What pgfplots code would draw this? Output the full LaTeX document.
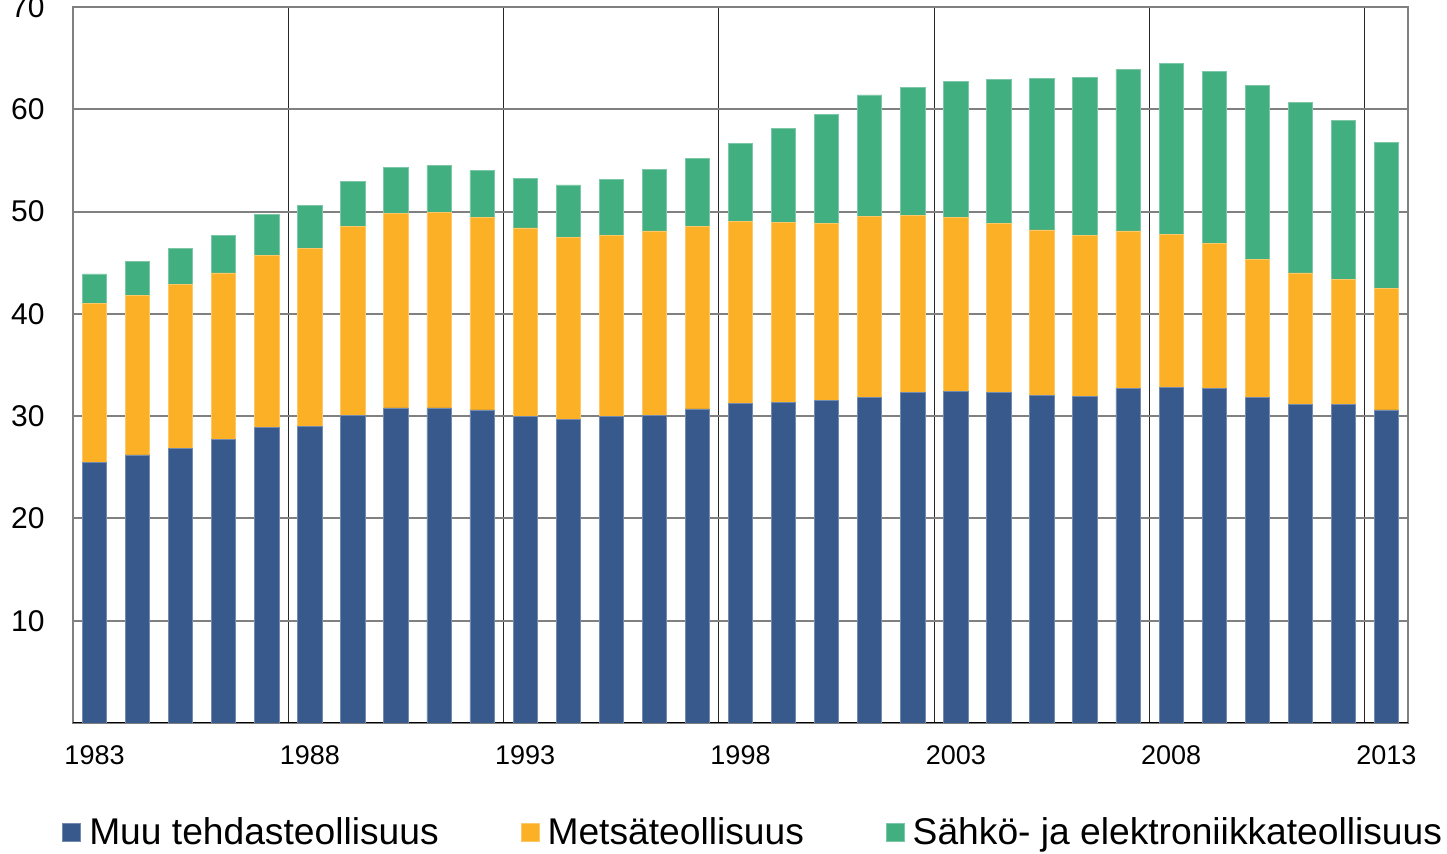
\documentclass[border=0pt]{standalone}
\usepackage{pgfplots}
\pgfplotsset{compat=1.18}
\usepackage{pgfplotstable}
\usepackage{fontspec}
\setmainfont{Liberation Sans}
\definecolor{cblue}{RGB}{55,89,140}
\definecolor{corange}{RGB}{252,176,38}
\definecolor{cgreen}{RGB}{66,175,129}
\definecolor{gridgray}{RGB}{128,128,128}
\pgfplotstableread{
x blue orange green
0 25.5 15.5 2.9
1 26.2 15.6 3.3
2 26.8 16.1 3.5
3 27.7 16.3 3.7
4 28.9 16.8 4.0
5 29.0 17.4 4.2
6 30.1 18.4 4.4
7 30.8 19.0 4.5
8 30.8 19.1 4.6
9 30.6 18.8 4.6
10 30.0 18.4 4.8
11 29.7 17.8 5.1
12 30.0 17.7 5.4
13 30.1 18.0 6.0
14 30.7 17.8 6.7
15 31.2 17.8 7.7
16 31.3 17.6 9.2
17 31.5 17.3 10.7
18 31.8 17.7 11.9
19 32.3 17.3 12.5
20 32.4 17.0 13.3
21 32.3 16.5 14.1
22 32.0 16.2 14.8
23 31.9 15.8 15.4
24 32.7 15.4 15.8
25 32.8 15.0 16.7
26 32.7 14.2 16.8
27 31.8 13.5 17.0
28 31.1 12.9 16.7
29 31.1 12.3 15.5
30 30.6 11.9 14.3
}\data
\begin{document}
\begin{tikzpicture}
\begin{axis}[
  name=ax,
  width=667.5pt, height=358pt, scale only axis,
  xmin=-0.5, xmax=30.5, ymin=0, ymax=70,
  ybar stacked, bar width=12.15pt,
  xtick={0,5,10,15,20,25,30},
  xticklabels={1983,1988,1993,1998,2003,2008,2013},
  minor xtick={4.5,9.5,14.5,19.5,24.5,29.5},
  xminorgrids,
  minor grid style={black!85, line width=0.5pt},
  ytick={10,20,30,40,50,60,70},
  ymajorgrids,
  major grid style={gridgray, line width=1pt},
  major tick length=0pt, minor tick length=0pt,
  axis line style={gridgray, line width=1pt},
  /pgf/number format/assume math mode=true,
  xticklabel style={font=\fontsize{13.5}{16}\selectfont, inner sep=0pt, yshift=-11pt},
  yticklabel style={font=\fontsize{15}{18}\selectfont, inner sep=0pt, xshift=-14pt},
  legend columns=3,
  legend style={draw=none, fill=none, inner sep=0pt, at={(-0.0082,-0.1536)}, anchor=west,
    nodes={inner sep=0pt, font=\fontsize{18.6}{22}\selectfont},
    /tikz/every odd column/.append style={column sep=4pt},
    /tikz/every even column/.append style={column sep=41pt}},
  legend image code/.code={\fill[#1] (0pt,-4pt) rectangle (9pt,5pt);},
]
\addplot[fill=cblue, draw=cblue!70!white, line width=0.4pt] table[x=x,y=blue]{\data};
\addplot[fill=corange, draw=corange!70!white, line width=0.4pt] table[x=x,y=orange]{\data};
\addplot[fill=cgreen, draw=cgreen!70!white, line width=0.4pt] table[x=x,y=green]{\data};
\legend{Muu tehdasteollisuus, Metsäteollisuus, Sähkö- ja elektroniikkateollisuus}
\draw[black, line width=1pt] (rel axis cs:0,0) -- (rel axis cs:1,0);
\end{axis}
\pgfresetboundingbox
\path[use as bounding box] ([shift={(-36.5pt,-65.5pt)}]ax.south west) rectangle ([shift={(19.5pt,3.5pt)}]ax.north east);
\end{tikzpicture}
\end{document}
